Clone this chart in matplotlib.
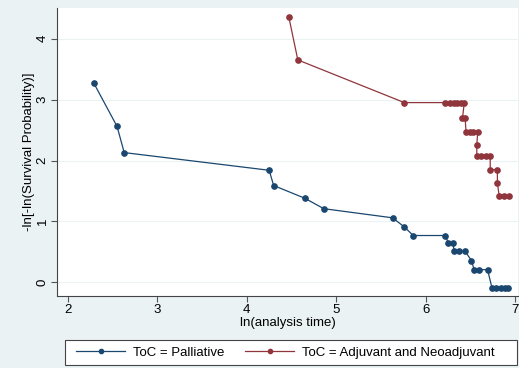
import matplotlib
matplotlib.use("Agg")
import matplotlib.pyplot as plt
from matplotlib.patches import Rectangle

# log-minus-log survival curves
palliative_x = [2.29, 2.55, 2.63, 4.25, 4.30, 4.65, 4.86, 5.63, 5.76, 5.86,
                6.22, 6.25, 6.30, 6.32, 6.37, 6.44, 6.51, 6.54, 6.60, 6.69,
                6.74, 6.79, 6.84, 6.88, 6.92]
palliative_y = [3.27, 2.56, 2.13, 1.84, 1.59, 1.38, 1.21, 1.06, 0.91, 0.77,
                0.77, 0.65, 0.65, 0.51, 0.51, 0.51, 0.36, 0.21, 0.21, 0.21,
                -0.09, -0.09, -0.09, -0.09, -0.09]

adjuvant_x = [4.47, 4.57, 5.76, 6.22, 6.27, 6.31, 6.35, 6.39, 6.43, 6.41,
              6.44, 6.45, 6.49, 6.53, 6.58, 6.57, 6.57, 6.62, 6.67, 6.72,
              6.72, 6.80, 6.80, 6.82, 6.87, 6.93]
adjuvant_y = [4.35, 3.65, 2.95, 2.95, 2.95, 2.95, 2.95, 2.95, 2.95, 2.69,
              2.69, 2.46, 2.46, 2.46, 2.46, 2.25, 2.07, 2.07, 2.07, 2.07,
              1.85, 1.85, 1.63, 1.42, 1.42, 1.42]

x_ticks = [2, 3, 4, 5, 6, 7]
y_ticks = [0, 1, 2, 3, 4]

NAVY = "#1a476f"
MAROON = "#90353b"
BG = "#eaf2f3"
FS = 9.5

plt.rcParams["font.family"] = ["Liberation Sans", "DejaVu Sans"]

fig = plt.figure(figsize=(5.19, 3.68), dpi=100, facecolor=BG)
ax = fig.add_axes([0.110, 0.196, 0.888, 0.782])
ax.set_facecolor("white")

ax.plot(palliative_x, palliative_y, color=NAVY, lw=0.9, marker="o",
        ms=3.8, label="ToC = Palliative")
ax.plot(adjuvant_x, adjuvant_y, color=MAROON, lw=0.9, marker="o",
        ms=3.8, label="ToC = Adjuvant and Neoadjuvant")

ax.set_xlim(1.88, 7.03)
ax.set_ylim(-0.22, 4.5)
ax.set_xticks(x_ticks)
ax.set_yticks(y_ticks)
ax.tick_params(axis="y", labelrotation=90, labelsize=FS, length=4,
               color="#555555", pad=2)
ax.tick_params(axis="x", labelsize=FS, length=4, color="#555555", pad=2)
for lab in ax.get_yticklabels():
    lab.set_va("center")

ax.grid(axis="y", color="#eaf2f3", lw=0.8)
ax.set_axisbelow(True)
for side in ("top", "right"):
    ax.spines[side].set_visible(False)
for side in ("left", "bottom"):
    ax.spines[side].set_color("#444444")
    ax.spines[side].set_linewidth(0.8)

ax.set_xlabel("ln(analysis time)", fontsize=FS, labelpad=0.5)
ax.set_ylabel("-ln[-ln(Survival Probability)]", fontsize=FS, labelpad=1)

# legend box drawn separately so the entries stay compact inside it
fig.patches.append(Rectangle((0.125, 0.008), 0.871, 0.068,
                             transform=fig.transFigure, facecolor="white",
                             edgecolor="#444444", lw=0.8))
fig.legend(loc="center", bbox_to_anchor=(0.55, 0.042), ncol=2,
           fontsize=FS, frameon=False, handlelength=3.7,
           columnspacing=1.6, handletextpad=0.6, markerscale=0.8)

fig.savefig("out.png", dpi=100, facecolor=BG)
